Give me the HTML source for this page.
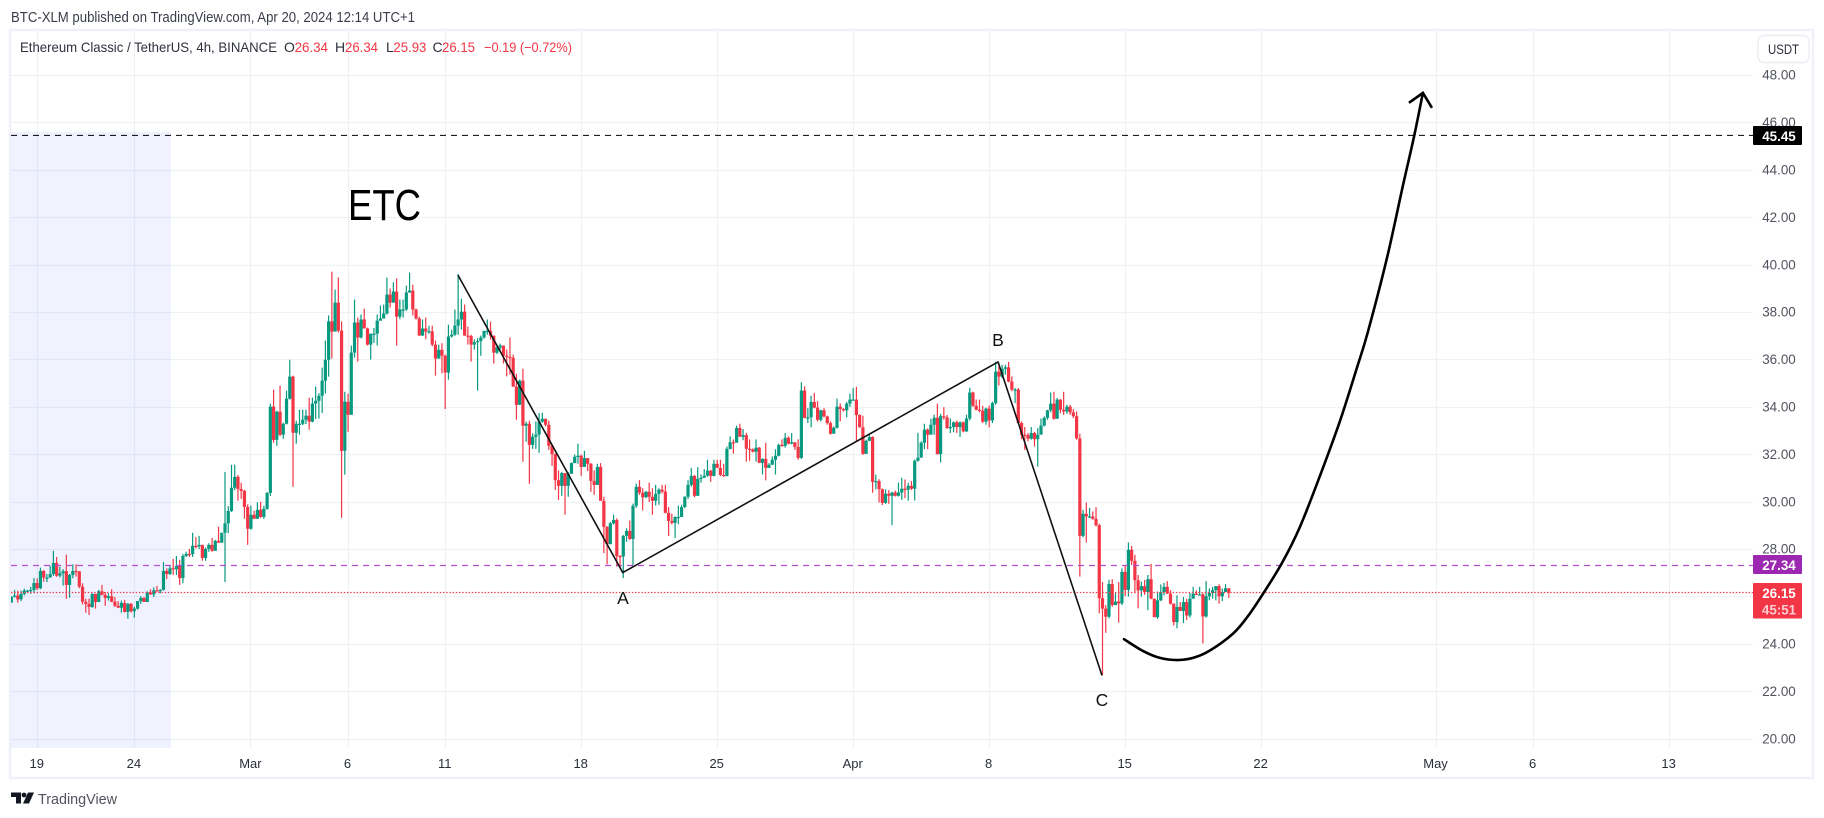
<!DOCTYPE html>
<html lang="en">
<head>
<meta charset="utf-8">
<title>Ethereum Classic / TetherUS chart</title>
<style>
html,body{margin:0;padding:0;background:#fff;}
svg{display:block;font-family:"Liberation Sans",Arial,sans-serif;}
</style>
</head>
<body>
<svg id="chart" xmlns="http://www.w3.org/2000/svg" width="1824" height="818" viewBox="0 0 1824 818">
  <defs><clipPath id="pane-clip"><rect x="11" y="31" width="1742" height="717"/></clipPath></defs>
  <rect x="0" y="0" width="1824" height="818" fill="#ffffff"/>
  <text x="11" y="22" font-size="14.5" fill="#3a3e4a" textLength="404" lengthAdjust="spacingAndGlyphs">BTC-XLM published on TradingView.com, Apr 20, 2024 12:14 UTC+1</text>
  <rect x="10" y="30" width="1803" height="748" fill="#ffffff" stroke="#f0f1f8" stroke-width="2.4"/>
  <g id="grid"></g>
  <rect x="11" y="132" width="160" height="616" fill="#f0f3ff" style="mix-blend-mode:multiply"/>
  <g id="candles" clip-path="url(#pane-clip)"></g>
  <g id="levels"></g>
  <g id="drawings"></g>
  <text x="348" y="220" font-size="44" fill="#000000" textLength="73" lengthAdjust="spacingAndGlyphs">ETC</text>
  <text x="623" y="604" font-size="17.5" fill="#111111" text-anchor="middle">A</text>
  <text x="998" y="346" font-size="17.5" fill="#111111" text-anchor="middle">B</text>
  <text x="1102" y="706" font-size="17.5" fill="#111111" text-anchor="middle">C</text>

  <g font-size="14">
    <text x="20" y="52" fill="#2e323e" textLength="257" lengthAdjust="spacingAndGlyphs">Ethereum Classic / TetherUS, 4h, BINANCE</text>
    <text x="284" y="52" fill="#2e323e">O</text>
    <text x="294.6" y="52" fill="#f23645" textLength="33.4" lengthAdjust="spacingAndGlyphs">26.34</text>
    <text x="335" y="52" fill="#2e323e">H</text>
    <text x="345" y="52" fill="#f23645" textLength="33" lengthAdjust="spacingAndGlyphs">26.34</text>
    <text x="386" y="52" fill="#2e323e">L</text>
    <text x="393.4" y="52" fill="#f23645" textLength="33" lengthAdjust="spacingAndGlyphs">25.93</text>
    <text x="432.5" y="52" fill="#2e323e">C</text>
    <text x="442" y="52" fill="#f23645" textLength="33" lengthAdjust="spacingAndGlyphs">26.15</text>
    <text x="484" y="52" fill="#f23645" textLength="88" lengthAdjust="spacingAndGlyphs">−0.19 (−0.72%)</text>
  </g>

  <g id="price-axis" font-size="13.4" fill="#50535e" text-anchor="middle"></g>
  <g id="time-axis" font-size="13" fill="#2a2e39" text-anchor="middle"></g>

  <g>
    <rect x="1758" y="35.5" width="51" height="27" rx="6" fill="#ffffff" stroke="#ebedf5" stroke-width="1.5"/>
    <text x="1783.500" y="54" font-size="13.5" fill="#2a2e39" text-anchor="middle" textLength="31" lengthAdjust="spacingAndGlyphs">USDT</text>
  </g>

  <g id="price-tags" font-size="13.4" text-anchor="middle" font-weight="700"></g>

  <g>
    <g fill="#131722">
      <path d="M11 792.5h10v11h-5v-6.500h-5z"/>
      <circle cx="24" cy="795" r="2.4"/>
      <path d="M28 792.500h6l-5 11h-6z"/>
    </g>
    <text x="38" y="804" font-size="15" fill="#50535e" textLength="79" lengthAdjust="spacingAndGlyphs">TradingView</text>
  </g>
</svg>

<script>
// --- Chart data ---
const firstOpen = 25.73;
const closes = [
25.98,26.03,25.87,26.10,26.24,26.24,26.27,26.56,26.34,27.07,
26.79,26.79,26.94,27.41,26.87,26.97,27.06,26.48,26.90,27.07,
27.05,26.41,25.77,25.68,25.55,26.10,25.76,26.21,26.06,25.93,
26.00,25.77,25.60,25.52,25.72,25.34,25.68,25.37,25.48,25.80,
25.93,25.76,26.15,26.08,26.25,26.24,26.27,27.07,26.94,27.18,
27.14,27.28,26.77,27.70,27.79,27.78,28.13,28.11,28.17,27.62,
28.00,28.17,27.92,28.34,28.27,28.68,29.08,29.60,30.58,31.04,
30.53,30.45,29.77,28.85,29.44,29.27,29.65,29.35,29.69,30.36,
34.00,32.60,33.79,32.82,33.28,34.34,35.27,32.90,33.28,33.28,
33.45,33.62,33.37,34.13,34.25,34.46,35.10,35.98,37.60,37.17,
38.39,37.21,32.14,34.21,33.66,36.28,37.55,36.92,37.68,37.30,
36.62,37.08,37.08,37.63,37.72,37.93,38.73,38.39,38.86,37.80,38.10,
38.10,38.82,38.90,38.10,37.72,37.00,37.30,37.17,37.18,
36.62,36.03,36.40,36.15,35.44,36.96,37.04,37.42,37.68,38.01,
37.00,36.98,36.62,36.72,36.77,36.92,37.20,37.20,37.00,36.28,
36.50,36.58,36.15,36.10,36.06,34.85,34.08,35.10,33.20,33.28,
32.39,32.73,32.82,33.37,33.49,33.24,32.35,32.00,30.90,30.66,
31.20,30.66,31.17,31.62,31.89,31.93,31.46,31.83,31.59,30.87,
30.70,31.46,30.03,28.93,28.20,29.08,29.22,27.70,27.68,28.55,
28.76,28.42,29.82,30.62,30.37,30.18,30.41,30.20,30.03,30.32,
30.50,30.42,29.52,29.18,29.10,29.35,29.35,29.77,30.20,30.70,
31.08,30.24,30.96,31.00,31.09,31.30,31.08,31.59,31.42,31.12,
31.07,32.22,32.50,32.48,33.10,32.73,32.80,32.23,32.20,32.10,
32.27,31.63,31.80,31.42,31.55,31.76,31.93,32.39,32.35,32.69,
32.44,32.50,32.30,31.84,
34.68,33.53,33.55,34.20,33.96,33.45,
33.85,33.59,33.31,32.86,33.11,34.00,33.90,33.85,34.13,34.30,
34.30,33.65,33.13,32.01,32.56,32.72,30.83,30.86,30.52,29.94,
30.33,30.24,30.38,30.24,30.38,30.54,30.50,30.66,30.54,31.72,
31.85,32.48,33.03,32.82,33.24,33.53,32.00,33.60,33.55,33.10,
33.14,33.34,33.14,33.34,32.96,33.50,34.60,34.04,33.87,33.83,
33.37,33.92,33.42,34.15,35.48,35.27,35.60,35.66,35.06,34.72,
34.72,33.31,32.82,32.80,32.65,32.89,32.63,32.82,33.20,33.53,
33.85,34.13,33.49,34.30,33.87,33.80,34.00,33.76,33.60,32.66,
28.55,29.48,29.37,29.37,29.27,29.00,25.92,25.48,25.14,26.52,
25.63,25.78,25.70,27.03,26.27,
27.96,27.50,26.68,26.25,26.43,26.18,26.72,25.90,25.12,25.83,
26.18,26.40,26.11,25.69,24.91,25.55,25.38,25.76,25.19,25.90,
26.11,26.08,26.08,25.15,26.00,26.14,26.26,26.43,26.00,26.18,
26.34,26.15
];
const highs = [
26.00,26.27,26.24,26.24,26.32,26.27,26.40,26.77,26.76,27.21,
27.11,26.94,27.28,27.92,27.66,27.25,27.15,27.75,26.95,27.35,
27.35,27.07,26.55,25.90,25.90,26.13,26.10,26.27,26.48,26.18,
26.13,26.30,25.97,25.80,25.82,25.85,25.72,25.72,25.56,25.80,
26.01,25.97,26.21,26.30,26.38,26.44,26.30,27.44,27.18,27.28,
27.58,27.70,27.54,27.79,27.88,28.00,28.68,28.50,28.55,28.17,
28.06,28.24,28.46,28.38,28.94,28.68,31.25,29.80,31.55,31.55,
31.12,30.79,30.49,29.88,29.82,29.61,29.97,29.99,29.82,30.40,
34.13,34.72,33.83,34.89,33.32,34.68,35.98,35.31,33.41,33.87,
33.87,33.87,34.38,34.38,34.85,34.57,35.65,36.79,37.85,39.70,
38.94,39.45,37.60,34.63,34.55,36.58,38.52,37.76,37.89,38.14,
37.34,37.08,37.32,37.89,38.27,38.31,39.45,38.99,39.25,39.41,38.52,
38.52,39.11,39.66,39.15,38.14,37.80,37.68,37.76,37.42,
37.42,36.79,36.62,36.68,36.20,37.46,37.25,38.10,39.60,38.56,
38.31,37.38,37.04,36.84,36.89,37.00,37.20,37.68,37.59,37.00,
36.62,36.66,36.58,36.41,36.92,36.20,35.39,35.14,35.60,33.37,
33.41,32.88,33.37,33.73,33.75,33.49,33.41,32.39,32.03,31.31,
31.25,31.20,31.25,31.65,31.98,32.44,31.98,32.14,31.59,31.62,
31.31,31.59,31.62,30.20,28.96,29.14,29.44,29.29,27.74,28.59,
28.87,29.20,29.91,30.75,30.90,30.56,30.45,30.80,30.56,30.70,
30.56,30.70,30.70,29.77,29.48,29.37,29.82,29.86,30.22,30.90,
31.42,31.12,31.45,31.14,31.37,31.76,31.34,31.76,31.76,31.76,
31.59,32.32,32.75,32.62,33.20,33.28,33.06,32.90,32.62,32.24,
32.62,32.30,31.82,32.48,31.62,31.90,32.20,32.44,32.62,32.89,
32.75,32.89,32.41,32.62,
35.03,34.86,33.94,34.46,34.58,34.23,
33.87,33.94,33.62,33.38,33.17,34.34,34.14,33.94,34.20,34.55,
34.79,34.84,33.68,33.62,32.61,32.82,32.75,31.13,30.94,30.55,
30.51,30.48,30.41,30.46,30.80,31.00,30.93,30.79,30.86,31.77,
32.90,32.54,33.28,33.08,33.49,33.66,34.13,33.70,33.98,33.65,
33.51,33.38,33.42,33.38,33.38,33.66,34.80,34.63,34.30,34.30,
34.04,33.96,34.04,34.21,35.90,35.70,35.77,35.77,35.89,35.28,
34.79,34.79,33.38,33.14,32.89,33.14,32.94,33.10,33.50,33.59,
33.87,34.60,34.63,34.37,34.32,34.63,34.08,34.08,33.90,33.80,
32.86,29.65,29.96,29.73,29.58,29.76,29.06,26.60,25.63,26.69,
26.72,26.13,26.60,27.18,27.32,
28.27,28.13,27.75,26.90,26.62,26.69,26.90,27.37,25.87,26.20,
26.50,26.57,26.64,26.26,25.70,26.04,25.76,25.97,25.90,26.14,
26.40,26.25,26.40,26.14,26.64,26.33,26.40,26.43,26.51,26.33,
26.51,26.34
];
const lows = [
25.73,25.95,25.73,25.80,26.04,26.17,26.10,26.13,26.27,26.30,
26.62,26.60,26.79,26.86,26.82,26.79,26.45,25.89,25.94,26.76,
26.83,26.34,25.66,25.31,25.21,25.51,25.48,25.76,26.04,25.60,
25.82,25.75,25.55,25.50,25.31,25.32,25.06,25.31,25.10,25.44,
25.68,25.76,25.76,26.06,25.97,26.20,26.13,26.24,26.73,26.90,
26.90,26.90,26.48,26.55,27.66,27.66,27.66,28.02,27.99,27.50,
27.50,27.88,27.88,27.92,28.25,28.25,26.60,28.66,29.56,30.48,
30.03,30.11,29.27,28.17,28.81,29.27,29.27,29.31,29.27,29.65,
30.24,32.48,32.35,32.76,32.65,33.25,34.30,30.62,32.44,32.82,
33.22,33.27,33.03,33.34,33.48,33.50,33.73,34.55,35.27,36.03,
37.17,37.13,29.31,31.13,32.94,33.66,36.07,35.90,36.88,37.30,
36.58,35.99,36.69,36.58,37.67,37.72,37.89,38.18,38.44,36.58,37.69,
37.76,38.05,38.80,37.85,37.68,36.99,36.99,36.85,37.08,
36.55,35.31,36.03,35.41,33.90,35.14,36.92,36.99,37.04,37.25,
36.99,36.62,35.90,36.41,34.68,36.15,36.87,37.04,36.83,35.82,
36.22,36.41,35.82,35.28,35.35,34.83,33.45,34.08,31.68,32.52,
30.75,32.22,32.22,32.05,33.32,33.17,32.18,31.50,30.49,30.07,
30.24,29.44,30.20,31.41,31.84,31.59,31.08,31.50,31.28,30.41,
30.28,30.70,30.03,27.82,27.35,28.49,29.03,27.25,27.20,26.77,
28.30,28.38,27.32,29.73,30.28,29.62,30.14,29.98,29.44,29.83,
29.86,30.34,29.50,28.55,29.03,28.46,29.04,29.35,29.72,30.11,
30.62,30.18,30.24,30.79,31.04,31.04,30.83,31.06,31.41,31.07,
31.04,31.07,32.20,32.02,32.48,32.73,32.59,31.68,31.72,32.07,
31.68,31.62,31.14,30.89,31.42,31.55,31.14,31.90,32.31,32.27,
32.41,32.41,32.18,31.76,
31.80,33.51,33.31,33.13,33.93,33.38,
33.38,33.55,33.24,32.82,32.86,33.08,33.38,33.80,33.55,33.99,
34.28,32.53,33.12,31.97,32.42,32.54,30.37,30.51,29.96,29.85,
29.90,29.90,29.00,30.21,30.21,30.07,30.14,30.04,30.49,30.04,
31.68,31.85,32.21,32.21,32.84,32.82,31.99,31.65,33.45,33.06,
32.89,32.92,32.89,32.72,32.92,32.93,33.42,33.99,33.85,33.76,
33.31,33.24,33.13,33.31,34.08,34.89,35.21,35.35,35.03,34.65,
34.15,33.28,32.63,32.18,32.54,32.61,32.32,31.48,32.82,33.17,
33.45,33.76,33.45,33.49,33.73,33.66,33.70,33.66,33.52,32.61,
26.83,28.49,28.27,29.30,29.23,28.94,25.28,22.68,24.46,25.07,
25.56,25.63,24.89,25.63,26.01,
25.99,27.32,26.13,25.49,25.99,26.06,25.42,25.87,25.12,25.05,
25.80,26.04,26.10,25.65,24.77,24.65,25.38,24.87,25.00,25.10,
26.11,26.05,26.05,24.01,25.10,25.83,25.90,25.83,25.69,25.80,
26.18,25.93
];
const priceTicks = [20,22,24,26,28,30,32,34,36,38,40,42,44,46,48];
const timeTickLabels = ["19","24","Mar","6","11","18","25","Apr","8","15","22","May","6","13"];
const timeTickBars = [8,38,74,104,134,176,218,260,302,344,386,440,470,512];
const horizontalLevel = 45.45;
const purpleLevel = 27.34;
const lastPrice = 26.15;
const waveBars = [138.1,189,304.9,337];
const wavePrices = [39.55,27.0,35.89,22.66];
const forecastBars = [343.8,349.7,354.9,360.2,365.1,370.4,377.5,382.1,386.7,392.6,398.1,404.3,410.5,415.7,419.1,425,429.9,433.4,436.1];
const forecastPrices = [24.19,23.69,23.40,23.31,23.40,23.72,24.43,25.17,26.10,27.41,28.92,31.08,33.40,35.63,37.15,40.27,43.31,45.42,47.24];
const arrowHeadBars = [431.8,436.1,438.9];
const arrowHeadPrices = [46.82,47.24,46.61];

// --- Axis functions ---
const PANE_LEFT = 11, PANE_RIGHT = 1753, PANE_TOP = 31, PANE_BOTTOM = 748;
const UP = '#089981', DOWN = '#f23645', GRID = '#eff1f5';
function xOf(bar){ return 10.8 + bar * 3.238; }
function yOf(price){ return 738.5 - (price - 20) * 23.7; }

const NS = 'http://www.w3.org/2000/svg';
function make(parent, tag, attrs, text){
  const el = document.createElementNS(NS, tag);
  for (const k in attrs) el.setAttribute(k, attrs[k]);
  if (text !== undefined) el.textContent = text;
  parent.appendChild(el);
  return el;
}
const gridG = document.getElementById('grid');
const candleG = document.getElementById('candles');
const levelsG = document.getElementById('levels');
const drawG = document.getElementById('drawings');
const priceG = document.getElementById('price-axis');
const timeG = document.getElementById('time-axis');
const tagG = document.getElementById('price-tags');

// Grid and axes
priceTicks.forEach(function(p){
  const y = Math.round(yOf(p)) + 0.5;
  const line = make(gridG, 'line', {x1:PANE_LEFT, x2:PANE_RIGHT, y1:y, y2:y, stroke:GRID, 'stroke-width':1.2});
  
  
  const label = make(priceG, 'text', {x:1779, y:yOf(p) + 4.8}, p.toFixed(2));
  
  
});
timeTickBars.forEach(function(b, i){
  const x = Math.round(xOf(b)) + 0.5;
  const line = make(gridG, 'line', {x1:x, x2:x, y1:PANE_TOP, y2:PANE_BOTTOM, stroke:GRID, 'stroke-width':1.2});
  
  
  const label = make(timeG, 'text', {x:xOf(b), y:768}, timeTickLabels[i]);
  
  
});

// Candles
closes.forEach(function(c, i){
  const o = i === 0 ? firstOpen : closes[i - 1];
  const color = c >= o ? UP : DOWN;
  const cx = xOf(i) + 0.5;
  const g = make(candleG, 'g', {});
  
  
  const wickTop = yOf(Math.max(highs[i], o, c));
  const wickBot = yOf(Math.min(lows[i], o, c));
  const wick = make(g, 'rect', {x:cx - 0.6, y:wickTop, width:1.2, height:Math.max(1, wickBot - wickTop), fill:color});
  
  
  const top = yOf(Math.max(o, c));
  const bot = yOf(Math.min(o, c));
  const body = make(g, 'rect', {x:cx - 1.6, y:top, width:3.2, height:Math.max(1.2, bot - top), fill:color});
  
  
});

// Level lines
const blackLevel = make(levelsG, 'line', {x1:PANE_LEFT, x2:PANE_RIGHT, y1:yOf(horizontalLevel), y2:yOf(horizontalLevel), stroke:'#000000', 'stroke-width':1, 'stroke-dasharray':'6 5'});


const purpleLine = make(levelsG, 'line', {x1:PANE_LEFT, x2:PANE_RIGHT, y1:Math.round(yOf(purpleLevel)) + 0.5, y2:Math.round(yOf(purpleLevel)) + 0.5, stroke:'#b54fcb', 'stroke-width':1.2, 'stroke-dasharray':'6 5'});


const lastLine = make(levelsG, 'line', {x1:PANE_LEFT, x2:PANE_RIGHT, y1:Math.round(yOf(lastPrice)) - 0.5, y2:Math.round(yOf(lastPrice)) - 0.5, stroke:'#f23645', 'stroke-width':1.2, 'stroke-dasharray':'1.4 1.8'});



// ABC wave lines
const wavePoints = waveBars.map(function(b, i){ return xOf(b) + ',' + yOf(wavePrices[i]); }).join(' ');
const wave = make(drawG, 'polyline', {points:wavePoints, fill:'none', stroke:'#111111', 'stroke-width':1.6, 'stroke-linejoin':'round'});



// Forecast curve (Catmull-Rom through read points)
const pts = forecastBars.map(function(b, i){ return [xOf(b), yOf(forecastPrices[i])]; });
let d = 'M' + pts[0][0] + ' ' + pts[0][1];
for (let i = 0; i < pts.length - 1; i++) {
  const p0 = pts[Math.max(0, i - 1)], p1 = pts[i], p2 = pts[i + 1], p3 = pts[Math.min(pts.length - 1, i + 2)];
  d += ' C' + (p1[0] + (p2[0] - p0[0]) / 6) + ' ' + (p1[1] + (p2[1] - p0[1]) / 6) + ' ' +
       (p2[0] - (p3[0] - p1[0]) / 6) + ' ' + (p2[1] - (p3[1] - p1[1]) / 6) + ' ' + p2[0] + ' ' + p2[1];
}
const curve = make(drawG, 'path', {d:d, fill:'none', stroke:'#000000', 'stroke-width':2.6, 'stroke-linecap':'round'});


const headPoints = arrowHeadBars.map(function(b, i){ return xOf(b) + ',' + yOf(arrowHeadPrices[i]); }).join(' ');
const head = make(drawG, 'polyline', {points:headPoints, fill:'none', stroke:'#000000', 'stroke-width':2.6, 'stroke-linejoin':'miter'});



// Price tags
function addTag(name, price, boxTop, boxHeight, color, line2){
  const box = make(tagG, 'rect', {x:1753, y:boxTop, width:49, height:boxHeight, fill:color, rx:1});
  
  
  const t = make(tagG, 'text', {x:1779, y:yOf(price) + 5.5, fill:'#ffffff'}, price.toFixed(2));
  
  
  if (line2) {
    const t2 = make(tagG, 'text', {x:1779, y:yOf(price) + 22, fill:'#ffffff', 'fill-opacity':0.75}, line2);
    
    
  }
}
addTag('resistance-price-tag', horizontalLevel, 126, 19, '#000000');
addTag('purple-price-tag', purpleLevel, 555, 19, '#9c27b0');
addTag('last-price-tag', lastPrice, 583, 35.5, '#f23645', '45:51');
</script>
</body>
</html>
